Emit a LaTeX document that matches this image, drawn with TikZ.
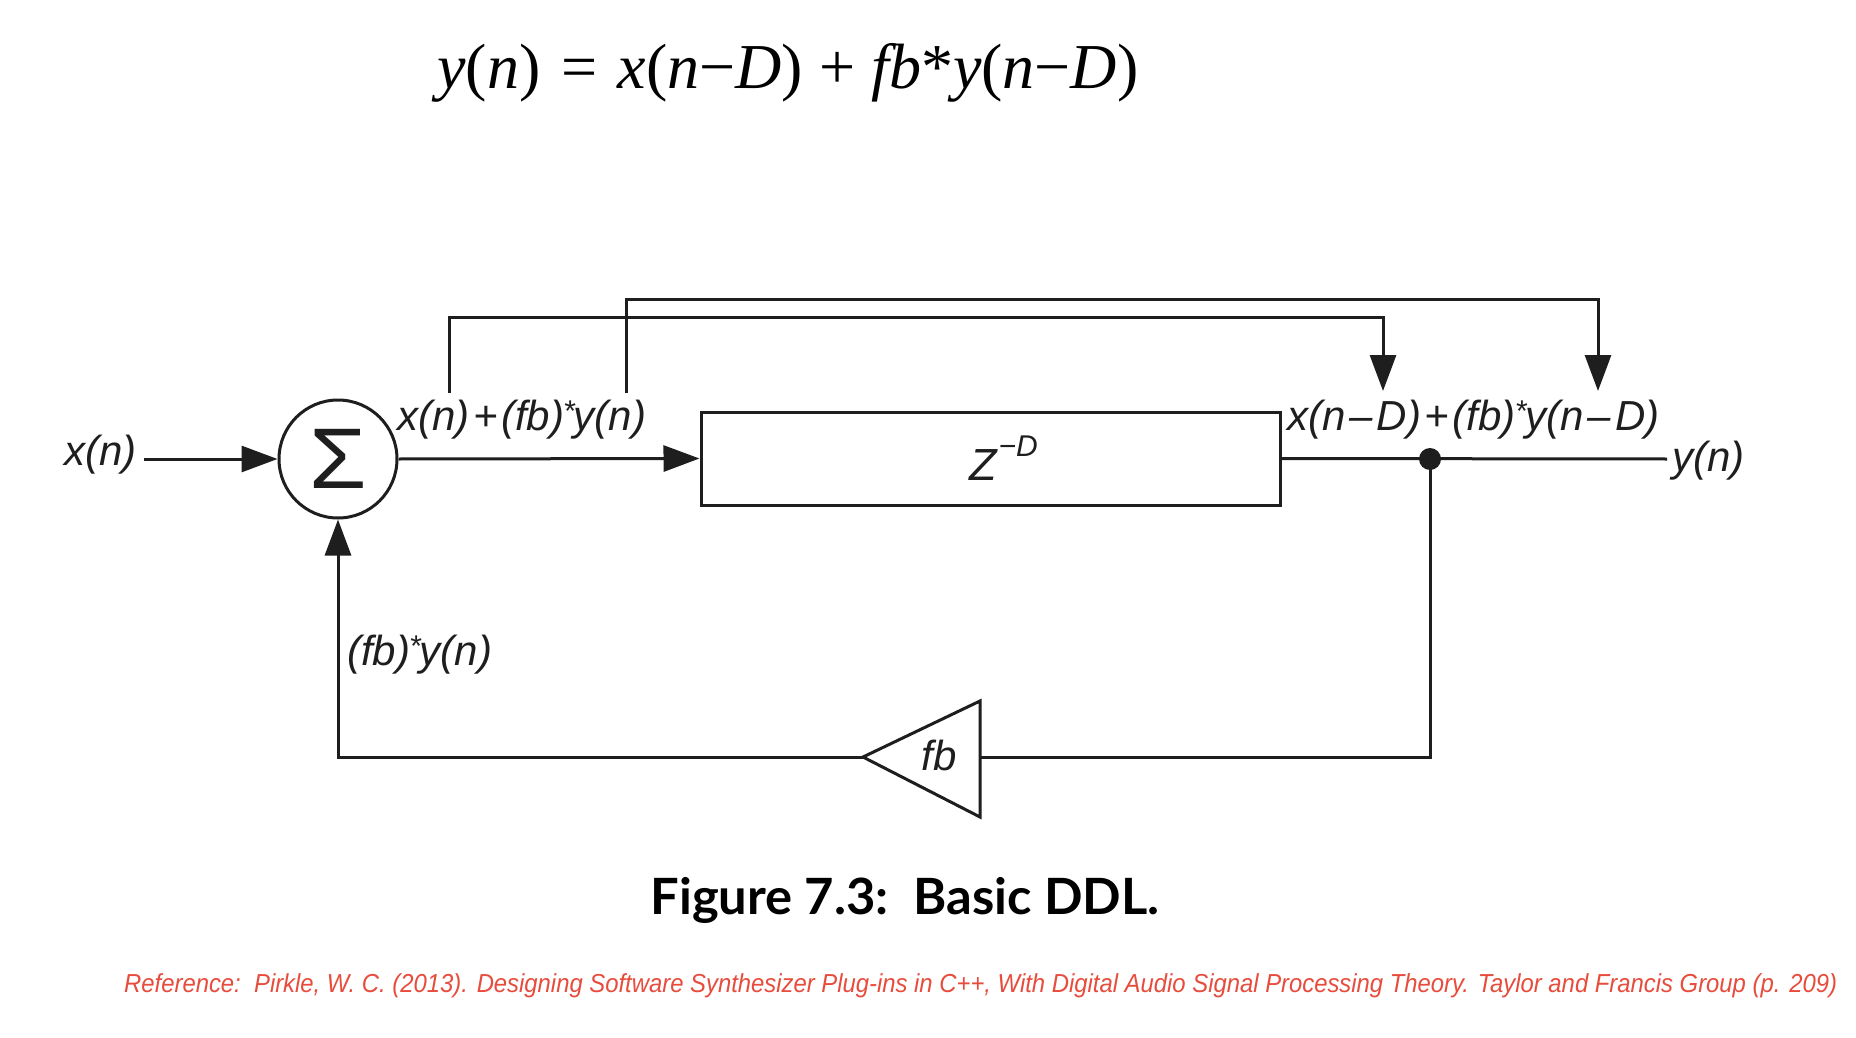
\documentclass[tikz,border=0pt]{standalone}
\usepackage{fontspec}
\usepackage{graphicx}
\usetikzlibrary{arrows.meta}
\setmainfont{Liberation Sans}
\newfontfamily\eqf{Liberation Serif}
\newfontfamily\capf{Lato}
\definecolor{refred}{RGB}{231,76,60}
\definecolor{ink}{RGB}{30,30,30}
\newcommand{\dsh}{\kern4pt–\kern4pt}
\newcommand{\pls}{\kern3.5pt+\kern3.5pt}
\newcommand{\astk}{\kern-1pt\raisebox{9pt}{\fontsize{30}{30}\selectfont*}\kern-1pt}
\begin{document}
\begin{tikzpicture}[x=1pt,y=-1pt,
  wire/.style={draw=ink, line width=3pt},
  arr/.style={wire, -{Triangle[length=36pt,width=26pt]}},
  lbl/.style={inner sep=0pt, text=ink, font=\fontsize{42}{42}\selectfont\itshape},
  sumnode/.style={circle, draw=ink, line width=3pt, minimum size=118pt, inner sep=0pt, text=ink},
  boxnode/.style={rectangle, draw=ink, line width=3pt, minimum width=579pt, minimum height=93pt, inner sep=0pt, text=ink},
  dotnode/.style={circle, fill=ink, minimum size=22pt, inner sep=0pt}]
\fill[white] (0,0) rectangle (1856,1038);
\path[use as bounding box] (0,0) rectangle (1856,1038);

% equation, caption, reference
\node[anchor=base, inner sep=0pt] (eq) at (788,89) {\resizebox{701pt}{\height}{\eqf\fontsize{64}{70}\selectfont \textit{y}(\textit{n})\hspace{5pt} = \hspace{4pt}\textit{x}(\textit{n}−\textit{D}) + \textit{fb}*\textit{y}(\textit{n}−\textit{D})}};
\node[anchor=base, inner sep=0pt] (cap) at (905,914) {\resizebox{509pt}{\height}{\capf\bfseries\fontsize{50}{50}\selectfont Figure 7.3:\ \ Basic DDL.}};
\node[anchor=base west, inner sep=0pt, text=refred] (ref) at (124,992) {\resizebox{1713pt}{\height}{\fontsize{26}{26}\selectfont\itshape Reference:\ \ Pirkle, W. C. (2013). Designing Software Synthesizer Plug-ins in C++, With Digital Audio Signal Processing Theory. Taylor and Francis Group (p. 209)}};

% blocks
\node[lbl, anchor=east] (xin) at (137,455) {x(n)};
\coordinate (in) at (144,459);
\node[sumnode] (sum) at (338,459) {\scalebox{1.08}[1]{\fontsize{86}{86}\selectfont Σ}};
\node[boxnode] (delay) at (990.5,458.5) {\hspace*{26pt}\fontsize{45}{45}\selectfont\itshape Z\raisebox{24pt}{\fontsize{30}{30}\selectfont\kern2pt−D}};
\node[dotnode] (split) at (1430,459) {};
\coordinate (out) at (1667,459);
\node[lbl, anchor=west] (yout) at (1672,461) {y(n)};
\node[lbl] (gain) at (939,755) {fb};
\coordinate (gin) at (980,757);
\coordinate (gout) at (863,757);

% labels
\node[lbl, anchor=west] (s1) at (397,420) {x(n)\pls(fb)\astk y(n)};
\node[lbl, anchor=west] (s2) at (1287,420) {x(n\dsh D)\pls(fb)\astk y(n\dsh D)};
\node[lbl, anchor=west] (fbl) at (347,655) {(fb)\astk y(n)};

% connectors
\draw[arr] (in) -- (sum.west);
\draw[arr] (sum.east) -- (delay.west);
\draw[wire] (delay.east) -- (out);
\draw[wire] (split.center) |- (gin);
\draw[wire, line join=miter] (gin) -- (980,701) -- (863,757) -- (980,817) -- cycle;
\draw[arr] (gout) -| (sum.south);

% feed-forward taps
\coordinate (t1) at (449,393);
\coordinate (t2) at (626,393);
\coordinate (h1) at (1383,391);
\coordinate (h2) at (1598,391);
\draw[arr] (t1) -- ++(0,-76) -| (h1);
\draw[arr] (t2) -- ++(0,-94) -| (h2);
\end{tikzpicture}
\end{document}
